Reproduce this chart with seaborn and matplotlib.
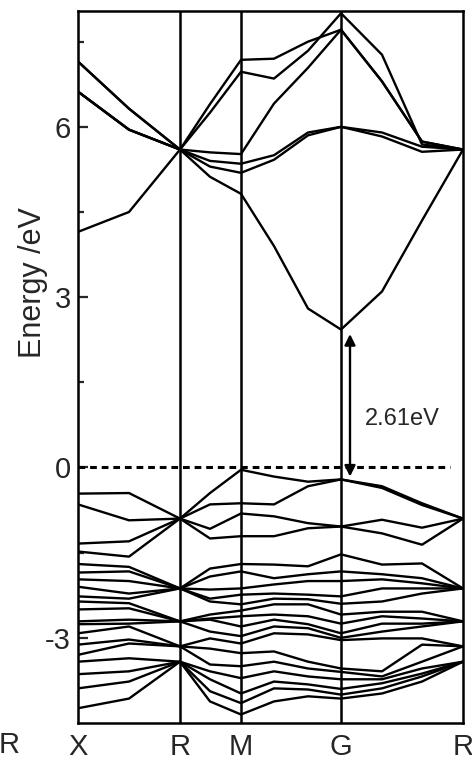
import numpy as np
import pandas as pd
import matplotlib
matplotlib.use("Agg")
import matplotlib.pyplot as plt
import seaborn as sns

# ---------------- data ----------------
# k-path sample positions (high-symmetry points + intermediate samples)
kpos = [0.0, 0.51, 1.02, 1.32, 1.63, 1.96, 2.30, 2.63, 3.04, 3.44, 3.85]
sym_pos = [0.0, 1.02, 1.63, 2.63, 3.85]
sym_labels = ["X", "R", "M", "G", "R"]

# conduction bands (eV), values at kpos
cb1 = [4.15, 4.50, 5.60, 5.12, 4.82, 3.90, 2.80, 2.43, 3.10, 4.35, 5.60]
cb2 = [6.62, 5.95, 5.60, 5.30, 5.19, 5.42, 5.85, 6.00, 5.83, 5.56, 5.60]
cb3 = [6.62, 5.95, 5.60, 5.40, 5.35, 5.50, 5.90, 6.00, 5.90, 5.65, 5.60]
cb4 = [7.15, 6.32, 5.60, 5.55, 5.52, 6.41, 7.04, 7.71, 6.80, 5.74, 5.60]
cb5 = [7.15, 6.32, 5.60, 6.25, 6.97, 6.85, 7.34, 8.00, 7.27, 5.69, 5.60]
cb6 = [6.62, 5.95, 5.60, 6.40, 7.18, 7.20, 7.50, 7.71, 6.80, 5.74, 5.60]

# upper valence bands
vb1 = [-0.46, -0.45, -0.90, -0.45, -0.04, -0.16, -0.25, -0.21, -0.33, -0.63, -0.90]
vb2 = [-0.65, -0.93, -0.90, -0.65, -0.63, -0.65, -0.33, -0.21, -0.36, -0.66, -0.90]
vb3 = [-1.34, -1.30, -0.90, -1.08, -0.81, -0.86, -0.98, -1.04, -0.92, -1.06, -0.90]
vb4 = [-1.48, -1.57, -0.90, -1.25, -1.21, -1.21, -1.07, -1.04, -1.16, -1.36, -0.90]

# lower valence manifold: sorted energies read at each k sample
low_X   = [-1.70, -1.85, -1.97, -2.10, -2.27, -2.36, -2.50, -2.71, -2.76, -2.92, -3.12, -3.30, -3.42, -3.64, -3.89, -4.24]
low_XR  = [-1.75, -1.83, -2.00, -2.22, -2.31, -2.39, -2.48, -2.68, -2.75, -2.80, -3.03, -3.10, -3.36, -3.59, -3.77, -4.07]
low_R   = [-2.13, -2.13, -2.13, -2.13, -2.13, -2.71, -2.71, -2.71, -2.71, -3.15, -3.15, -3.15, -3.42, -3.42, -3.42, -3.42]
low_RM  = [-1.78, -1.92, -2.15, -2.31, -2.36, -2.59, -2.66, -2.68, -2.89, -3.01, -3.19, -3.47, -3.59, -3.73, -3.94, -4.12]
low_M   = [-1.70, -1.83, -2.13, -2.24, -2.41, -2.52, -2.62, -2.80, -2.97, -3.10, -3.27, -3.50, -3.71, -3.98, -4.15, -4.35]
low_MG1 = [-1.71, -1.95, -2.06, -2.22, -2.31, -2.41, -2.59, -2.68, -2.80, -2.92, -3.24, -3.42, -3.59, -3.77, -3.89, -4.12]
low_MG2 = [-1.74, -1.88, -2.00, -2.24, -2.32, -2.41, -2.62, -2.76, -2.83, -2.94, -3.42, -3.54, -3.68, -3.82, -3.91, -4.03]
low_G   = [-1.53, -1.83, -2.00, -2.27, -2.40, -2.59, -2.75, -2.92, -3.00, -3.04, -3.54, -3.60, -3.73, -3.90, -4.00, -4.07]
low_GR1 = [-1.71, -1.88, -1.97, -2.13, -2.36, -2.54, -2.62, -2.75, -2.89, -3.01, -3.59, -3.68, -3.73, -3.80, -3.89, -3.98]
low_GR2 = [-1.69, -1.95, -2.04, -2.13, -2.22, -2.54, -2.66, -2.75, -2.80, -3.01, -3.12, -3.42, -3.54, -3.63, -3.68, -3.77]
low_R2  = low_R

gap_label = "2.61eV"
gap_bottom = -0.16
gap_top = 2.35
gap_x = 2.72

# ---------------- build long table ----------------
bands = [cb1, cb2, cb3, cb4, cb5, cb6, vb1, vb2, vb3, vb4]
low_cols = [low_X, low_XR, low_R, low_RM, low_M, low_MG1, low_MG2,
            low_G, low_GR1, low_GR2, low_R2]
for i in range(len(low_X)):
    bands.append([col[i] for col in low_cols])

rows = []
for b, vals in enumerate(bands):
    for k, e in zip(kpos, vals):
        rows.append({"band": b, "k": k, "E": e})
df = pd.DataFrame(rows)

# ---------------- plot ----------------
sns.set_style("ticks")
plt.rcParams["font.family"] = ["Liberation Sans", "DejaVu Sans"]
plt.rcParams["axes.unicode_minus"] = False

fig = plt.figure(figsize=(4.72, 7.6), dpi=100)
ax = fig.add_axes([78 / 472, 1 - 723 / 760, 385 / 472, 712 / 760])

sns.lineplot(data=df, x="k", y="E", units="band", estimator=None,
             sort=False, color="black", lw=1.7, legend=False, ax=ax)

for p in sym_pos[1:-1]:
    ax.axvline(p, color="black", lw=1.8, zorder=3)

ax.plot([0, 3.72], [0, 0], color="black", lw=2.2,
        linestyle=(0, (2.2, 1.6)), zorder=4)

ax.annotate("", xy=(gap_x, gap_top), xytext=(gap_x, gap_bottom),
            arrowprops=dict(arrowstyle="<|-|>", color="black", lw=1.7,
                            mutation_scale=16, shrinkA=0, shrinkB=0))
ax.text(3.24, 0.85, gap_label, fontsize=17, ha="center", va="center")

ax.set_xlim(sym_pos[0], sym_pos[-1])
ax.set_ylim(-4.5, 8.04)
ax.set_xticks(sym_pos)
ax.set_xticklabels(sym_labels, fontsize=21)
ax.tick_params(axis="x", length=0, pad=7)
ax.set_yticks([-3, 0, 3, 6])
ax.set_yticks([-1.5, 1.5, 4.5, 7.5], minor=True)
ax.tick_params(axis="y", which="major", direction="in", length=7, width=1.6,
               labelsize=21, pad=5)
ax.tick_params(axis="y", which="minor", direction="in", length=4.5, width=1.6)
ax.set_xlabel("")
ax.set_ylabel("Energy /eV", fontsize=22, va="center")
ax.yaxis.set_label_coords(-0.117, 0.618)

for s in ax.spines.values():
    s.set_linewidth(1.8)
    s.set_color("black")

# partial label from neighbouring panel at the left edge
ax.text(-0.69, -0.031, "R", transform=ax.get_xaxis_transform(),
        fontsize=21, ha="center", va="center", clip_on=False)

fig.savefig("out.png", dpi=100)
